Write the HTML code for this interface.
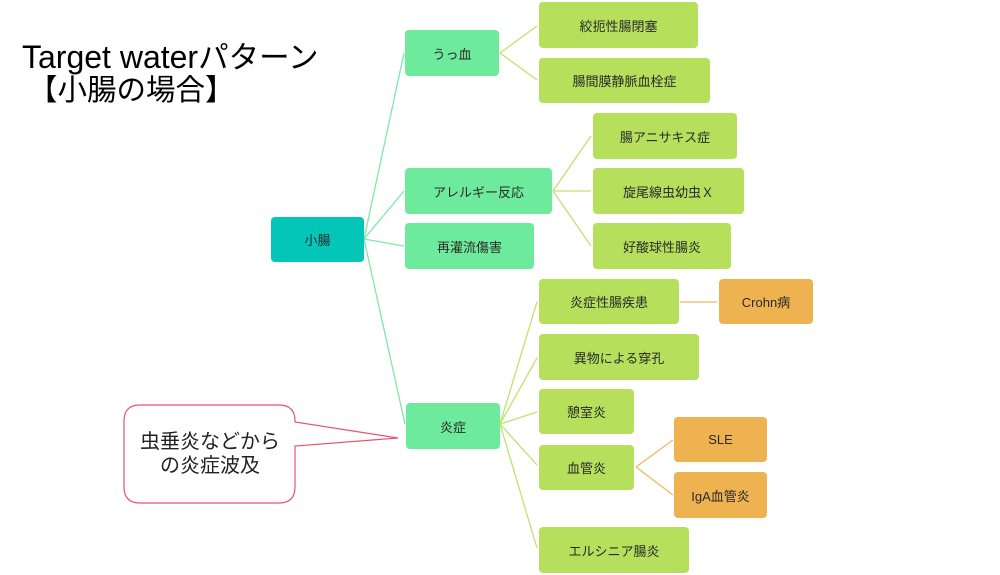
<!DOCTYPE html>
<html><head><meta charset="utf-8">
<style>
html,body{margin:0;padding:0;background:#fff;}
body{width:1000px;height:575px;position:relative;overflow:hidden;font-family:"Liberation Sans","Noto Sans CJK JP",sans-serif;}
.b{position:absolute;display:flex;align-items:center;justify-content:center;border-radius:4px;font-size:13px;color:#2a2a2a;font-family:"Liberation Sans","Noto Sans CJK JP",sans-serif;white-space:nowrap;box-sizing:border-box;}
.t{background:#04c6b8;}
.g{background:#6eea9c;}
.y{background:#b6e05c;}
.o{background:#efb250;}
svg{position:absolute;left:0;top:0;}
</style></head><body>
<svg width="1000" height="575" viewBox="0 0 1000 575">
 <g font-family="Liberation Sans, Noto Sans CJK JP, sans-serif" fill="#000">
  <text x="22" y="68" font-size="32">Target water<tspan font-size="30.5">パターン</tspan></text>
  <text x="28" y="100" font-size="29.5">【小腸の場合】</text>
 </g>
 <g stroke="#7ee8a6" stroke-width="1.3" fill="none">
  <line x1="364" y1="239" x2="404" y2="53"/>
  <line x1="364" y1="239" x2="404" y2="191"/>
  <line x1="364" y1="239" x2="404" y2="246"/>
  <line x1="364" y1="239" x2="405" y2="424"/>
 </g>
 <g stroke="#bde46e" stroke-width="1.3" fill="none">
  <line x1="500" y1="53" x2="537" y2="26"/>
  <line x1="500" y1="53" x2="537" y2="80"/>
  <line x1="553" y1="191" x2="591" y2="136"/>
  <line x1="553" y1="191" x2="591" y2="191"/>
  <line x1="553" y1="191" x2="591" y2="246"/>
  <line x1="500" y1="424" x2="537" y2="302"/>
  <line x1="500" y1="424" x2="537" y2="358"/>
  <line x1="500" y1="424" x2="537" y2="412"/>
  <line x1="500" y1="424" x2="537" y2="465"/>
  <line x1="500" y1="424" x2="537" y2="548"/>
 </g>
 <g stroke="#f2b862" stroke-width="1.3" fill="none">
  <line x1="680" y1="302" x2="717" y2="302"/>
  <line x1="636" y1="467" x2="673" y2="440"/>
  <line x1="636" y1="467" x2="673" y2="495"/>
 </g>
 <path d="M140,405 H279 Q295,405 295,421 V422 L398,438 L295,446 V487 Q295,503 279,503 H140 Q124,503 124,487 V421 Q124,405 140,405 Z" fill="#fff" stroke="#e8546c" stroke-width="1.2"/>
 <text x="210" y="448" font-size="20" text-anchor="middle" fill="#222" font-family="Liberation Sans, Noto Sans CJK JP, sans-serif">虫垂炎などから</text>
 <text x="210" y="472" font-size="20" text-anchor="middle" fill="#222" font-family="Liberation Sans, Noto Sans CJK JP, sans-serif">の炎症波及</text>
</svg>

<div class="b t" style="left:271px;top:217px;width:93px;height:45px;">小腸</div>

<div class="b g" style="left:405px;top:30px;width:94px;height:46px;">うっ血</div>
<div class="b g" style="left:405px;top:168px;width:147px;height:46px;">アレルギー反応</div>
<div class="b g" style="left:405px;top:223px;width:129px;height:46px;">再灌流傷害</div>
<div class="b g" style="left:406px;top:403px;width:94px;height:46px;">炎症</div>

<div class="b y" style="left:539px;top:2px;width:159px;height:46px;">絞扼性腸閉塞</div>
<div class="b y" style="left:539px;top:58px;width:171px;height:45px;">腸間膜静脈血栓症</div>
<div class="b y" style="left:593px;top:113px;width:144px;height:46px;">腸アニサキス症</div>
<div class="b y" style="left:593px;top:168px;width:151px;height:46px;">旋尾線虫幼虫Ｘ</div>
<div class="b y" style="left:593px;top:223px;width:138px;height:46px;">好酸球性腸炎</div>

<div class="b y" style="left:539px;top:279px;width:140px;height:45px;">炎症性腸疾患</div>
<div class="b y" style="left:539px;top:334px;width:160px;height:46px;">異物による穿孔</div>
<div class="b y" style="left:539px;top:389px;width:95px;height:45px;">憩室炎</div>
<div class="b y" style="left:539px;top:445px;width:95px;height:45px;">血管炎</div>
<div class="b y" style="left:539px;top:527px;width:150px;height:46px;">エルシニア腸炎</div>

<div class="b o" style="left:719px;top:279px;width:94px;height:45px;">Crohn病</div>
<div class="b o" style="left:674px;top:417px;width:93px;height:45px;">SLE</div>
<div class="b o" style="left:674px;top:472px;width:93px;height:46px;">IgA血管炎</div>
</body></html>
